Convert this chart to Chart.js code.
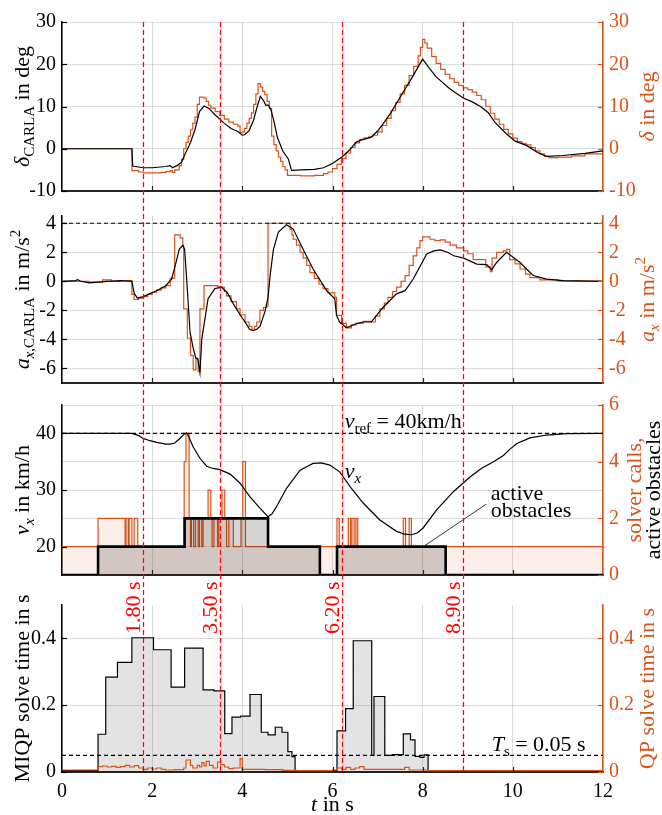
<!DOCTYPE html>
<html>
<head>
<meta charset="utf-8">
<script src="https://cdn.jsdelivr.net/npm/chart.js@4.4.1/dist/chart.umd.min.js"></script>
<style>
	body { margin: 0; background: #fff; }
	#wrap { position: relative; width: 662px; height: 815px; }
	#wrap canvas { position: absolute; left: 0; top: 0; }
</style>
</head>
<body>
<div id="wrap">
	<canvas id="c1" width="662" height="815"></canvas>
	<canvas id="c2" width="662" height="815"></canvas>
	<canvas id="c3" width="662" height="815"></canvas>
	<canvas id="c4" width="662" height="815"></canvas>
</div>
<script>
var ORANGE = "#D95319";
var FONT = "Liberation Serif";
var GRID = "rgba(0,0,0,0.14)";

// shared time axis
var xTicks = [0, 2, 4, 6, 8, 10, 12];
var markTimes = [1.8, 3.5, 6.2, 8.9];
var markLabels = ["1.80 s", "3.50 s", "6.20 s", "8.90 s"];

// steering angle [t, deg]
var deltaTicks = [-10, 0, 10, 20, 30];
var deltaCarla = [[0,0],[1.55,0],[1.57,-4.1],[1.8,-4.5],[2.0,-4.5],[2.3,-4.2],[2.4,-4.0],[2.45,-4.5],[2.55,-4.0],[2.65,-3.2],
	[2.75,-0.8],[2.85,1.5],[2.95,4.5],[3.05,8.8],[3.15,10.1],[3.25,9.6],[3.4,8.0],[3.5,7.0],[3.6,6.0],[3.75,4.8],
	[3.9,4.1],[4.0,3.2],[4.05,3.3],[4.15,4.3],[4.25,6.8],[4.33,10.0],[4.4,12.4],[4.47,11.4],[4.52,10.3],[4.57,10.4],
	[4.63,9.4],[4.7,6.6],[4.78,2.6],[4.9,-0.6],[5.02,-2.4],[5.09,-5.1],[5.3,-5.0],[5.6,-4.9],[5.8,-4.5],[6.0,-3.5],
	[6.2,-2.0],[6.35,-0.6],[6.53,1.6],[6.65,2.1],[6.85,2.7],[7.0,4.2],[7.15,6.3],[7.3,8.6],[7.5,12.2],[7.75,16.6],
	[8.0,21.2],[8.15,19.0],[8.3,17.0],[8.6,14.2],[8.9,12.0],[9.1,11.1],[9.3,9.9],[9.45,8.6],[9.6,6.3],[9.85,3.6],
	[10.05,1.8],[10.3,0.8],[10.55,-0.9],[10.75,-1.8],[11.1,-1.6],[11.6,-1.1],[12.0,-0.5]];
var deltaCmd = [[0,0],[1.55,-5.2],[1.7,-5.5],[1.8,-5.7],[2.0,-5.7],[2.2,-5.6],[2.3,-5.4],[2.4,-5.2],[2.45,-5.6],[2.5,-5.0],
	[2.6,-4.0],[2.65,-2.5],[2.7,0],[2.75,1.5],[2.8,3.0],[2.85,4.5],[2.9,6.0],[2.95,7.5],[3.0,10.5],[3.05,12.2],
	[3.15,12.0],[3.2,11.2],[3.25,10.3],[3.3,9.6],[3.4,8.8],[3.5,7.9],[3.6,7.0],[3.7,6.3],[3.8,5.8],[3.9,5.4],
	[3.95,3.8],[4.0,4.0],[4.05,4.8],[4.1,6.0],[4.15,7.2],[4.2,8.5],[4.25,10.5],[4.3,13.0],[4.35,15.4],[4.4,14.6],
	[4.45,13.6],[4.5,12.8],[4.55,11.2],[4.6,9.5],[4.65,3.0],[4.7,1.0],[4.75,-0.5],[4.8,-2.0],[4.85,-3.0],[4.9,-4.2],
	[4.95,-5.0],[5.0,-6.3],[5.3,-6.4],[5.6,-6.3],[5.8,-5.9],[5.9,-5.5],[6.0,-4.7],[6.1,-3.7],[6.2,-2.3],[6.3,-1.0],
	[6.4,0.3],[6.5,1.4],[6.6,2.2],[6.7,2.6],[6.8,2.8],[6.9,3.2],[7.0,4.0],[7.1,5.5],[7.2,7.2],[7.3,9.0],
	[7.4,11.0],[7.5,13.0],[7.6,15.0],[7.7,17.3],[7.8,19.5],[7.9,22.0],[7.95,24.0],[8.0,25.9],[8.05,25.0],[8.1,23.8],
	[8.2,21.8],[8.3,20.2],[8.4,18.8],[8.5,17.6],[8.6,16.6],[8.7,15.7],[8.8,15.0],[8.9,14.4],[9.0,14.0],[9.1,13.4],
	[9.2,12.6],[9.3,11.6],[9.4,10.0],[9.5,8.4],[9.6,7.0],[9.7,5.8],[9.8,4.6],[9.9,3.5],[10.0,2.5],[10.1,1.7],
	[10.2,1.3],[10.3,0.9],[10.4,0.3],[10.5,-0.5],[10.6,-1.2],[10.7,-1.8],[10.8,-2.1],[11.0,-2.0],[11.3,-1.7],[11.6,-1.2],[12.0,-0.6]];

// longitudinal acceleration [t, m/s^2]
var accTicks = [-6, -4, -2, 0, 2, 4];
var accMax = 4;
var accCarla = [[0,0],[0.3,0.05],[0.35,0.12],[0.4,0.02],[0.6,-0.1],[1.0,0.0],[1.3,0.05],[1.55,0.0],[1.6,-0.8],[1.67,-1.15],
	[1.8,-1.05],[2.1,-0.65],[2.3,-0.3],[2.43,0.15],[2.53,1.3],[2.6,2.2],[2.68,2.5],[2.72,2.2],[2.76,0.4],[2.84,-3.5],
	[2.91,-4.6],[2.97,-5.3],[3.01,-5.3],[3.06,-6.3],[3.1,-4.0],[3.17,-2.6],[3.24,-1.2],[3.39,-0.5],[3.54,-0.4],[3.67,-0.8],
	[3.8,-1.55],[3.95,-2.3],[4.06,-2.8],[4.16,-3.3],[4.24,-3.4],[4.32,-3.3],[4.39,-3.1],[4.5,-2.1],[4.57,-1.1],[4.62,0.5],
	[4.69,2.2],[4.8,3.4],[4.98,3.9],[5.13,3.6],[5.35,2.2],[5.57,0.85],[5.87,-0.64],[6.05,-1.2],[6.09,-2.35],[6.16,-2.8],
	[6.31,-3.2],[6.53,-2.9],[6.68,-2.8],[6.86,-2.8],[7.12,-1.8],[7.42,-0.86],[7.61,-0.64],[7.79,0.16],[7.97,1.19],[8.09,1.88],
	[8.25,2.1],[8.39,2.17],[8.55,2.0],[8.69,1.76],[8.91,1.6],[9.2,1.19],[9.42,1.15],[9.53,0.8],[9.64,1.3],[9.86,2.0],
	[10.16,1.3],[10.45,0.4],[10.75,0.15],[11.12,0.05],[12.0,0]];
var accCmd = [[0,0],[0.6,-0.05],[0.9,0.1],[1.1,0.0],[1.3,0.05],[1.55,-0.9],[1.6,-1.25],[1.7,-1.15],[1.8,-1.05],[1.9,-0.9],
	[2.0,-0.75],[2.1,-0.6],[2.2,-0.45],[2.3,-0.3],[2.4,0.2],[2.5,3.2],[2.62,3.0],[2.68,2.4],[2.7,-1.9],[2.78,-3.9],
	[2.85,-5.1],[2.91,-6.1],[2.97,-5.4],[3.02,-6.2],[3.06,-1.9],[3.15,-0.3],[3.3,-0.3],[3.45,-0.35],[3.5,-0.4],[3.6,-0.7],
	[3.65,-1.0],[3.75,-1.4],[3.87,-1.9],[3.95,-2.3],[4.06,-2.8],[4.15,-3.1],[4.21,-3.3],[4.27,-3.1],[4.32,-2.8],[4.39,-2.0],
	[4.47,-1.8],[4.54,-1.7],[4.57,4.0],[5.06,3.6],[5.1,3.2],[5.13,2.9],[5.2,2.5],[5.28,2.0],[5.35,1.6],[5.43,1.1],
	[5.5,0.6],[5.6,0.2],[5.7,-0.2],[5.79,-0.5],[5.9,-0.8],[6.05,-1.1],[6.09,-2.35],[6.2,-2.9],[6.31,-3.2],[6.42,-3.0],
	[6.53,-2.9],[6.68,-2.75],[6.86,-2.8],[6.95,-2.4],[7.05,-1.9],[7.15,-1.5],[7.23,-1.1],[7.33,-0.7],[7.42,-0.4],[7.52,0.0],
	[7.61,0.4],[7.7,1.1],[7.79,1.76],[7.87,2.3],[7.94,2.8],[8.0,3.06],[8.16,2.9],[8.27,2.8],[8.39,2.85],[8.5,2.7],
	[8.61,2.5],[8.75,2.3],[8.91,2.1],[9.0,1.9],[9.12,1.5],[9.27,1.5],[9.4,1.0],[9.5,0.66],[9.54,1.6],[9.64,2.0],
	[9.79,2.1],[9.86,2.2],[9.93,1.5],[10.05,1.2],[10.16,0.85],[10.28,0.5],[10.38,0.25],[10.6,0.1],[11.0,0.02],[12.0,0]];

// speed [t, km/h] and counts [t, n]
var speedTicks = [20, 30, 40];
var countTicks = [0, 2, 4, 6];
var vRef = 40;
var speed = [[0,40],[1.55,40],[1.7,39.6],[1.8,39.1],[1.95,38.7],[2.1,38.4],[2.3,38.1],[2.4,38.1],[2.5,38.3],[2.6,39.0],
	[2.65,39.4],[2.72,39.9],[2.76,40.1],[2.8,39.6],[2.91,37.6],[3.06,35.6],[3.21,34.2],[3.35,33.8],[3.5,33.6],[3.73,32.8],
	[3.95,31.2],[4.17,28.8],[4.39,26.8],[4.57,25.3],[4.66,25.8],[4.76,27.1],[4.98,30.3],[5.28,33.5],[5.57,34.7],[5.75,34.8],
	[5.94,34.4],[6.16,33.2],[6.39,30.6],[6.68,27.7],[7.05,24.7],[7.42,22.7],[7.6,22.2],[7.75,22.1],[7.88,22.4],[8.01,23.3],
	[8.31,26.5],[8.68,29.7],[9.05,32.3],[9.3,33.8],[9.57,35.0],[9.79,36.1],[9.95,37.3],[10.09,38.2],[10.38,39.2],[10.75,39.7],
	[11.2,39.95],[12.0,40]];
var solverCalls = [[0,1],[0.8,2],[1.4,1],[1.42,2],[1.47,1],[1.49,2],[1.55,1],[1.6,2],[1.68,1],[2.71,4],
	[2.75,5],[2.82,2],[2.85,1],[2.87,2],[2.92,1],[2.96,2],[3.02,1],[3.05,2],[3.1,1],[3.13,2],
	[3.24,3],[3.3,2],[3.33,1],[3.37,2],[3.45,1],[3.48,2],[3.55,3],[3.61,2],[3.65,1],[3.7,2],
	[3.8,1],[3.97,2],[4.01,4],[4.07,1],[6.1,2],[6.15,1],[6.35,2],[6.4,1],[6.43,2],[6.48,1],
	[6.52,2],[6.56,1],[7.57,2],[7.62,1],[7.7,2],[7.75,1],[12.0,1]];
var activeObstacles = [[0,0],[0.8,1],[2.72,2],[4.57,1],[5.72,0],[6.1,1],[8.51,0],[12.0,0]];

// solve times [t, s]
var timeTicks = [0, 0.2, 0.4];
var sampleTime = 0.05;
var miqpTime = [[0,0.004],[0.8,0.113],[0.97,0.284],[1.23,0.328],[1.55,0.402],[2.03,0.366],[2.42,0.254],[2.72,0.371],[3.13,0.246],[3.37,0.243],
	[3.61,0.115],[3.77,0.164],[3.96,0.167],[4.17,0.232],[4.42,0.119],[4.57,0.111],[4.73,0.134],[4.88,0.119],[5.01,0.061],[5.1,0.046],
	[5.17,0.004],[6.1,0.123],[6.29,0.19],[6.46,0.393],[6.87,0.05],[6.92,0.226],[7.16,0.05],[7.33,0.052],[7.57,0.114],[7.73,0.096],
	[7.83,0.047],[7.94,0.044],[8.03,0.051],[8.12,0.004],[12.0,0.004]];
var qpTime = [[0,0.006],[0.8,0.016],[0.9,0.018],[1.0,0.015],[1.1,0.017],[1.2,0.014],[1.3,0.016],[1.4,0.02],[1.5,0.015],[1.6,0.019],
	[1.7,0.012],[1.8,0.008],[1.9,0.012],[2.0,0.009],[2.1,0.012],[2.2,0.008],[2.3,0.006],[2.5,0.007],[2.7,0.012],[2.75,0.036],
	[2.85,0.02],[2.9,0.012],[3.0,0.02],[3.05,0.015],[3.1,0.028],[3.15,0.018],[3.2,0.032],[3.27,0.02],[3.35,0.012],[3.45,0.03],
	[3.52,0.022],[3.6,0.015],[3.7,0.01],[3.8,0.012],[3.95,0.04],[4.0,0.008],[4.5,0.007],[4.9,0.005],[5.2,0.004],[6.0,0.006],
	[6.1,0.012],[6.2,0.008],[6.3,0.014],[6.4,0.008],[6.5,0.012],[6.6,0.016],[6.7,0.008],[7.6,0.014],[7.7,0.006],[8.1,0.004],[12.0,0.004]];

function pts(pairs) {
	return pairs.map(function(p) { return {x: p[0], y: p[1]}; });
}
function hline(v) {
	return [{x: 0, y: v}, {x: 12, y: v}];
}

function fontFor(kind) {
	var small = kind === "sub" || kind === "subi" || kind === "sup";
	var italic = kind === "i" || kind === "subi";
	return (italic ? "italic " : "") + (small ? 15 : 22) + "px \"" + FONT + "\"";
}

// text with sub/superscripts, drawn with the canvas api
function drawRich(ctx, parts, x, y, rot, color, align) {
	ctx.save();
	ctx.translate(x, y);
	ctx.rotate(rot);
	ctx.fillStyle = color;
	ctx.textAlign = "left";
	ctx.textBaseline = "alphabetic";
	var w = 0;
	parts.forEach(function(p) { ctx.font = fontFor(p[1]); w += ctx.measureText(p[0]).width; });
	var cx = align === "center" ? -w / 2 : 0;
	parts.forEach(function(p) {
		ctx.font = fontFor(p[1]);
		var dy = (p[1] === "sub" || p[1] === "subi") ? 5 : (p[1] === "sup" ? -9 : 0);
		ctx.fillText(p[0], cx, dy);
		cx += ctx.measureText(p[0]).width;
	});
	ctx.restore();
}

// MATLAB style inward tick marks
var inTicks = {
	id: "inTicks",
	afterDraw: function(chart) {
		var ctx = chart.ctx, a = chart.chartArea, s = chart.scales;
		ctx.save();
		ctx.lineWidth = 1.2;
		ctx.strokeStyle = "#262626";
		xTicks.slice(1, -1).forEach(function(v) {
			var px = Math.round(s.x.getPixelForValue(v)) + 0.5;
			ctx.beginPath(); ctx.moveTo(px, a.bottom); ctx.lineTo(px, a.bottom - 5); ctx.stroke();
		});
		s.y.ticks.forEach(function(t) {
			var py = Math.round(s.y.getPixelForValue(t.value)) + 0.5;
			ctx.strokeStyle = "#000";
			ctx.beginPath(); ctx.moveTo(a.left, py); ctx.lineTo(a.left + 5, py); ctx.stroke();
		});
		s.y2.ticks.forEach(function(t) {
			var py = Math.round(s.y2.getPixelForValue(t.value)) + 0.5;
			ctx.strokeStyle = ORANGE;
			ctx.beginPath(); ctx.moveTo(a.right, py); ctx.lineTo(a.right - 5, py); ctx.stroke();
		});
		ctx.restore();
	}
};

// axis titles and in-plot notes
var notes = {
	id: "notes",
	afterDatasetsDraw: function(chart, args, opts) {
		var ctx = chart.ctx, a = chart.chartArea, s = chart.scales;
		var mid = (a.top + a.bottom) / 2;
		(opts.left || []).forEach(function(t) {
			drawRich(ctx, t.parts, a.left - 33 + (t.dx || 0), mid, -Math.PI / 2, t.color || "#000", "center");
		});
		(opts.right || []).forEach(function(t) {
			drawRich(ctx, t.parts, a.right + 51 + (t.dx || 0), mid, -Math.PI / 2, t.color || ORANGE, "center");
		});
		(opts.texts || []).forEach(function(t) {
			drawRich(ctx, t.parts, s.x.getPixelForValue(t.x), s.y.getPixelForValue(t.y), 0, "#000", "left");
		});
		(opts.leaders || []).forEach(function(l) {
			ctx.save();
			ctx.strokeStyle = "#000";
			ctx.lineWidth = 0.8;
			ctx.beginPath();
			ctx.moveTo(s.x.getPixelForValue(l[0]), s.y.getPixelForValue(l[1]));
			ctx.lineTo(s.x.getPixelForValue(l[2]), s.y.getPixelForValue(l[3]));
			ctx.stroke();
			ctx.restore();
		});
		if (opts.xTitle) {
			drawRich(ctx, opts.xTitle, (a.left + a.right) / 2, a.bottom + 39, 0, "#000", "center");
		}
	}
};

// red event markers running through all four panels
var TOP1 = 22;
var marks = {
	id: "marks",
	afterDraw: function(chart) {
		var ctx = chart.ctx, a = chart.chartArea, s = chart.scales;
		ctx.save();
		ctx.strokeStyle = "#ff0000";
		ctx.lineWidth = 1.2;
		ctx.setLineDash([5, 3]);
		markTimes.forEach(function(t, i) {
			var px = Math.round(s.x.getPixelForValue(t)) + 0.5;
			ctx.beginPath(); ctx.moveTo(px, TOP1); ctx.lineTo(px, a.bottom); ctx.stroke();
			drawRich(ctx, [[markLabels[i], "r"]], px - 4, s.y.getPixelForValue(0.413), -Math.PI / 2, "#ff0000", "left");
		});
		ctx.restore();
	}
};

function xScale(showLabels) {
	return {
		type: "linear", min: 0, max: 12,
		afterBuildTicks: function(sc) { sc.ticks = xTicks.map(function(v) { return {value: v}; }); },
		afterFit: function(sc) { sc.height = showLabels ? 43 : 0; },
		ticks: {display: showLabels, color: "#000", font: {family: FONT, size: 20}, padding: 8, maxRotation: 0,
			callback: function(v) { return String(v); }},
		grid: {color: GRID, drawTicks: false},
		border: {color: "#262626", width: 2}
	};
}

function yScale(pos, min, max, ticks, color, grid) {
	return {
		type: "linear", position: pos, min: min, max: max,
		afterBuildTicks: function(sc) { sc.ticks = ticks.map(function(v) { return {value: v}; }); },
		afterFit: function(sc) { sc.width = pos === "left" ? 62 : 59; },
		ticks: {color: color, font: {family: FONT, size: 20}, padding: 6,
			callback: function(v) { return String(v); }},
		grid: {drawOnChartArea: grid, drawTicks: false, color: GRID},
		border: {color: color, width: 1.5}
	};
}

function line(data, color, extra) {
	var d = {data: data, borderColor: color, backgroundColor: color, borderWidth: 1.2, pointRadius: 0, fill: false, tension: 0};
	for (var k in extra) { d[k] = extra[k]; }
	return d;
}

function makeChart(id, top, bottom, datasets, scales, noteOpts, extraPlugins) {
	return new Chart(document.getElementById(id), {
		type: "line",
		data: {datasets: datasets},
		options: {
			responsive: false,
			animation: false,
			layout: {padding: {top: top, bottom: bottom, left: 0, right: 0}},
			scales: scales,
			plugins: {legend: {display: false}, tooltip: {enabled: false}, notes: noteOpts}
		},
		plugins: [inTicks, notes].concat(extraPlugins || [])
	});
}

// panel 1: steering
makeChart("c1", TOP1, 624, [
	line(pts(deltaCarla), "#000", {yAxisID: "y"}),
	line(pts(deltaCmd), ORANGE, {yAxisID: "y2", stepped: true})
], {
	x: xScale(false),
	y: yScale("left", -10, 30, deltaTicks, "#000", true),
	y2: yScale("right", -10, 30, deltaTicks, ORANGE, false)
}, {
	left: [{parts: [["δ", "i"], ["CARLA", "sub"], [" in deg", "r"]]}],
	right: [{parts: [["δ", "i"], [" in deg", "r"]]}]
});

// panel 2: acceleration
makeChart("c2", 216, 432, [
	line(hline(accMax), "#000", {yAxisID: "y", borderDash: [4, 3]}),
	line(pts(accCarla), "#000", {yAxisID: "y"}),
	line(pts(accCmd), ORANGE, {yAxisID: "y2", stepped: true})
], {
	x: xScale(false),
	y: yScale("left", -7, 4.5, accTicks, "#000", true),
	y2: yScale("right", -7, 4.5, accTicks, ORANGE, false)
}, {
	left: [{parts: [["a", "i"], ["x", "subi"], [",CARLA", "sub"], [" in m/s", "r"], ["2", "sup"]]}],
	right: [{parts: [["a", "i"], ["x", "subi"], [" in m/s", "r"], ["2", "sup"]]}]
});

// panel 3: speed, solver calls, obstacles
makeChart("c3", 405, 240, [
	line(pts(speed), "#000", {yAxisID: "y"}),
	line(hline(vRef), "#000", {yAxisID: "y", borderDash: [4, 3]}),
	line(pts(activeObstacles), "#000", {yAxisID: "y2", stepped: true, borderWidth: 2.6, fill: "origin", backgroundColor: "rgba(0,0,0,0.17)"}),
	line(pts(solverCalls), ORANGE, {yAxisID: "y2", stepped: true, fill: "origin", backgroundColor: "rgba(217,83,25,0.09)"})
], {
	x: xScale(false),
	y: yScale("left", 15, 45, speedTicks, "#000", true),
	y2: yScale("right", 0, 6, countTicks, ORANGE, true)
}, {
	left: [{parts: [["v", "i"], ["x", "subi"], [" in km/h", "r"]]}],
	right: [{parts: [["solver calls,", "r"]], color: ORANGE, dx: -13}, {parts: [["active obstacles", "r"]], color: "#000", dx: 6}],
	texts: [
		{x: 6.27, y: 41.0, parts: [["v", "i"], ["ref", "sub"], [" = 40km/h", "r"]]},
		{x: 6.27, y: 32.2, parts: [["v", "i"], ["x", "subi"]]},
		{x: 9.51, y: 28.2, parts: [["active", "r"]]},
		{x: 9.51, y: 25.3, parts: [["obstacles", "r"]]}
	],
	leaders: [[9.41, 27.5, 8.05, 20.2]]
});

// panel 4: solve times
makeChart("c4", 605, 0, [
	line(hline(sampleTime), "#000", {yAxisID: "y", borderDash: [4, 3]}),
	line(pts(qpTime), ORANGE, {yAxisID: "y2", stepped: true}),
	line(pts(miqpTime), "#000", {yAxisID: "y", stepped: true, fill: "origin", backgroundColor: "rgba(0,0,0,0.11)"})
], {
	x: xScale(true),
	y: yScale("left", 0, 0.5, timeTicks, "#000", true),
	y2: yScale("right", 0, 0.5, timeTicks, ORANGE, false)
}, {
	left: [{parts: [["MIQP solve time in s", "r"]]}],
	right: [{parts: [["QP solve time in s", "r"]]}],
	texts: [{x: 9.53, y: 0.063, parts: [["T", "i"], ["s", "sub"], [" = 0.05 s", "r"]]}],
	xTitle: [["t", "i"], [" in s", "r"]]
}, [marks]);
</script>
</body>
</html>
